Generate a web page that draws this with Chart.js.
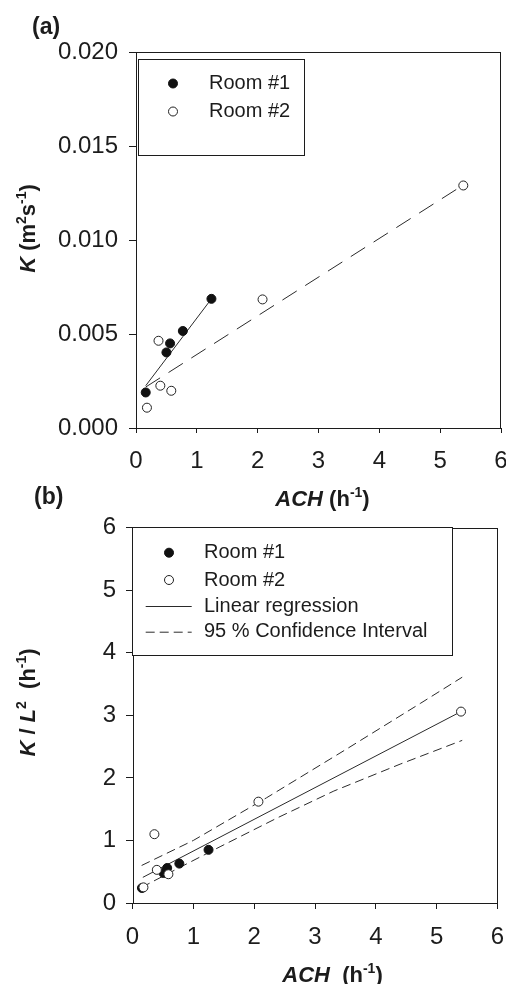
<!DOCTYPE html>
<html>
<head>
<meta charset="utf-8">
<script src="https://cdn.jsdelivr.net/npm/chart.js@4.4.1/dist/chart.umd.min.js"></script>
<style>
  html, body { margin: 0; padding: 0; background: #fff; }
  body { width: 506px; height: 984px; position: relative; overflow: hidden; }
  .panel { position: absolute; left: 0; width: 506px; }
  #wrapA { top: 0; height: 512px; }
  #wrapB { top: 480px; height: 504px; }
</style>
</head>
<body>
<div class="panel" id="wrapA"><canvas id="chartA" width="506" height="512"></canvas></div>
<div class="panel" id="wrapB"><canvas id="chartB" width="506" height="504"></canvas></div>
<script>
// ---- data ----

// (a) K vs ACH
const a_room1_ach = [0.16, 0.50, 0.56, 0.77, 1.24];
const a_room1_k   = [0.00189, 0.00402, 0.00450, 0.00516, 0.00687];
const a_room2_ach = [0.18, 0.37, 0.40, 0.58, 2.08, 5.38];
const a_room2_k   = [0.00108, 0.00464, 0.00225, 0.00198, 0.00684, 0.01290];
const a_fit1_ach  = [0.16, 1.24];
const a_fit1_k    = [0.00225, 0.00687];
const a_fit2_ach  = [0.16, 5.30];
const a_fit2_k    = [0.00218, 0.01276];
const a_xTicks = [0, 1, 2, 3, 4, 5, 6];
const a_yTicks = [0, 0.005, 0.010, 0.015, 0.020];

// (b) K/L^2 vs ACH
const b_room1_ach = [0.155, 0.51, 0.57, 0.77, 1.25];
const b_room1_val = [0.24, 0.48, 0.56, 0.63, 0.85];
const b_room2_ach = [0.18, 0.36, 0.40, 0.59, 2.07, 5.40];
const b_room2_val = [0.25, 1.10, 0.53, 0.46, 1.62, 3.06];
const b_reg_ach   = [0.17, 5.38];
const b_reg_val   = [0.41, 3.05];
const b_ciUp_ach  = [0.15, 1.00, 2.20, 3.50, 4.73, 5.42];
const b_ciUp_val  = [0.60, 1.00, 1.68, 2.45, 3.19, 3.61];
const b_ciLo_ach  = [0.15, 0.80, 1.44, 2.40, 3.31, 4.40, 5.42];
const b_ciLo_val  = [0.25, 0.58, 0.90, 1.37, 1.79, 2.22, 2.60];
const b_xTicks = [0, 1, 2, 3, 4, 5, 6];
const b_yTicks = [0, 1, 2, 3, 4, 5, 6];

const FONT = '"Liberation Sans", Arial, sans-serif';
const INK = '#1c1c1c';

const zip = (xs, ys) => xs.map((x, i) => ({ x: x, y: ys[i] }));

// marker / line styles
function pointsDS(label, xs, ys, filled, order) {
  return {
    label: label, inLegend: true, order: order,
    data: zip(xs, ys),
    pointRadius: 4.5, pointBorderWidth: 1,
    pointBackgroundColor: filled ? '#111' : '#fff',
    pointBorderColor: filled ? '#111' : '#222',
    backgroundColor: filled ? '#111' : '#fff',
    borderColor: filled ? '#111' : '#222',
    showLine: false
  };
}
function lineDS(label, xs, ys, dash, inLegend) {
  return {
    label: label, inLegend: inLegend, order: 5,
    data: zip(xs, ys),
    showLine: true, pointRadius: 0, tension: 0,
    borderColor: '#2a2a2a', borderWidth: 1, borderDash: dash
  };
}

function axis(tickArr, o) {
  return {
    type: 'linear',
    min: tickArr[0], max: tickArr[tickArr.length - 1],
    afterBuildTicks: s => { s.ticks = tickArr.map(v => ({ value: v })); },
    afterFit: s => {
      if (s.isHorizontal()) s.height = o.size; else s.width = o.size;
      // no extra room for overhanging first/last labels
      s.paddingLeft = s.paddingRight = s.paddingTop = s.paddingBottom = 0;
    },
    grid: { display: true, drawOnChartArea: false, drawTicks: true,
            tickLength: o.tick, tickColor: INK, tickWidth: 1 },
    border: { display: false },
    ticks: { font: { family: FONT, size: 24 }, color: INK, padding: o.pad,
             maxRotation: 0, callback: o.fmt || (v => String(v)) },
    title: { display: false }
  };
}

// rich text (italic / superscripts) for axis titles
function drawRich(ctx, parts, x, y, rot, align) {
  ctx.save();
  ctx.translate(x, y);
  ctx.rotate(rot || 0);
  ctx.fillStyle = INK;
  ctx.textBaseline = 'alphabetic';
  ctx.textAlign = 'left';
  let w = 0;
  parts.forEach(p => { ctx.font = p.f; p.w = ctx.measureText(p.t).width; w += p.w; });
  let cx = align === 'left' ? 0 : -w / 2;
  parts.forEach(p => { ctx.font = p.f; ctx.fillText(p.t, cx, p.dy || 0); cx += p.w; });
  ctx.restore();
}

const B  = 'bold 22px ' + FONT;
const BI = 'italic bold 22px ' + FONT;
const SUP = 'bold 14px ' + FONT;

const decoPlugin = {
  id: 'deco',
  beforeDatasetsDraw(chart) {
    const ctx = chart.ctx, a = chart.chartArea;
    ctx.save();
    ctx.strokeStyle = INK;
    ctx.lineWidth = 1;
    ctx.strokeRect(Math.round(a.left) + 0.5, Math.round(a.top) + 0.5,
                   Math.round(a.right - a.left) - 1, Math.round(a.bottom - a.top));
    ctx.restore();
  },
  afterDraw(chart, args, opts) {
    const ctx = chart.ctx;
    // legend box
    const L = opts.legend;
    ctx.save();
    ctx.fillStyle = '#fff';
    ctx.fillRect(L.left, L.top, L.right - L.left, L.bottom - L.top);
    ctx.strokeStyle = INK;
    ctx.lineWidth = 1;
    ctx.strokeRect(L.left + 0.5, L.top + 0.5, L.right - L.left, L.bottom - L.top);
    const items = chart.data.datasets.filter(d => d.inLegend);
    ctx.font = '20px ' + FONT;
    ctx.textBaseline = 'middle';
    items.forEach((d, i) => {
      const y = L.rows[i];
      if (d.showLine) {
        ctx.beginPath();
        ctx.setLineDash(d.borderDash || []);
        ctx.strokeStyle = '#2a2a2a';
        ctx.moveTo(L.lineX[0], y + 0.5);
        ctx.lineTo(L.lineX[1], y + 0.5);
        ctx.stroke();
        ctx.setLineDash([]);
      } else {
        ctx.beginPath();
        ctx.arc(L.markX, y, d.pointRadius, 0, Math.PI * 2);
        ctx.fillStyle = d.pointBackgroundColor;
        ctx.fill();
        ctx.strokeStyle = d.pointBorderColor;
        ctx.stroke();
      }
      ctx.fillStyle = INK;
      ctx.fillText(d.label, L.textX, y);
    });
    ctx.restore();
    // titles
    opts.titles.forEach(t => drawRich(ctx, t.parts, t.x, t.y, t.rot, t.align));
  }
};

function baseOptions(pad, scales, deco) {
  return {
    responsive: false,
    animation: false,
    layout: { autoPadding: false, padding: pad },
    scales: scales,
    plugins: { legend: { display: false }, tooltip: { enabled: false }, deco: deco }
  };
}

// ---- (a) ----
new Chart(document.getElementById('chartA'), {
  type: 'scatter',
  data: {
    datasets: [
      pointsDS('Room #1', a_room1_ach, a_room1_k, true, 1),
      pointsDS('Room #2', a_room2_ach, a_room2_k, false, 2),
      lineDS('fit room 1', a_fit1_ach, a_fit1_k, [], false),
      lineDS('fit room 2', a_fit2_ach, a_fit2_k, [17, 10], false)
    ]
  },
  options: baseOptions(
    { left: 40, top: 52, right: 5, bottom: 5 },
    {
      x: axis(a_xTicks, { size: 79, tick: 5, pad: 14 }),
      y: axis(a_yTicks, { size: 96, tick: 7, pad: 11, fmt: v => v.toFixed(3) })
    },
    {
      legend: { left: 138, top: 59, right: 304, bottom: 155, rows: [83.5, 111.5],
                markX: 173, textX: 209, lineX: [0, 0] },
      titles: [
        { parts: [{ t: '(a)', f: 'bold 23px ' + FONT }], x: 32, y: 34, align: 'left' },
        { parts: [{ t: 'ACH', f: BI }, { t: ' (h', f: B }, { t: '-1', f: SUP, dy: -9 }, { t: ')', f: B }],
          x: 322.5, y: 506 },
        { parts: [{ t: 'K', f: BI }, { t: ' (m', f: B }, { t: '2', f: SUP, dy: -9 }, { t: 's', f: B },
                  { t: '-1', f: SUP, dy: -9 }, { t: ')', f: B }],
          x: 35, y: 228.5, rot: -Math.PI / 2 }
      ]
    }
  ),
  plugins: [decoPlugin]
});

// ---- (b) ----
new Chart(document.getElementById('chartB'), {
  type: 'scatter',
  data: {
    datasets: [
      pointsDS('Room #1', b_room1_ach, b_room1_val, true, 2),
      pointsDS('Room #2', b_room2_ach, b_room2_val, false, 1),
      lineDS('Linear regression', b_reg_ach, b_reg_val, [], true),
      lineDS('95 % Confidence Interval', b_ciUp_ach, b_ciUp_val, [9, 5], true),
      lineDS('95 % CI (lower)', b_ciLo_ach, b_ciLo_val, [9, 5], false)
    ]
  },
  options: baseOptions(
    { left: 40, top: 47.7, right: 8.5, bottom: 5 },
    {
      x: axis(b_xTicks, { size: 76, tick: 6, pad: 14 }),
      y: axis(b_yTicks, { size: 92.5, tick: 6.5, pad: 10 })
    },
    {
      legend: { left: 132, top: 47, right: 452, bottom: 175, rows: [72.7, 100, 126, 151.7],
                markX: 169, textX: 204, lineX: [145.7, 191.7] },
      titles: [
        { parts: [{ t: '(b)', f: 'bold 23px ' + FONT }], x: 34, y: 24, align: 'left' },
        { parts: [{ t: 'ACH', f: BI }, { t: '  (h', f: B }, { t: '-1', f: SUP, dy: -9 }, { t: ')', f: B }],
          x: 332.5, y: 501.7 },
        { parts: [{ t: 'K', f: BI }, { t: ' / ', f: B }, { t: 'L', f: BI }, { t: '2', f: SUP, dy: -9 },
                  { t: '  (h', f: B }, { t: '-1', f: SUP, dy: -9 }, { t: ')', f: B }],
          x: 35, y: 222.5, rot: -Math.PI / 2 }
      ]
    }
  ),
  plugins: [decoPlugin]
});
</script>
</body>
</html>
